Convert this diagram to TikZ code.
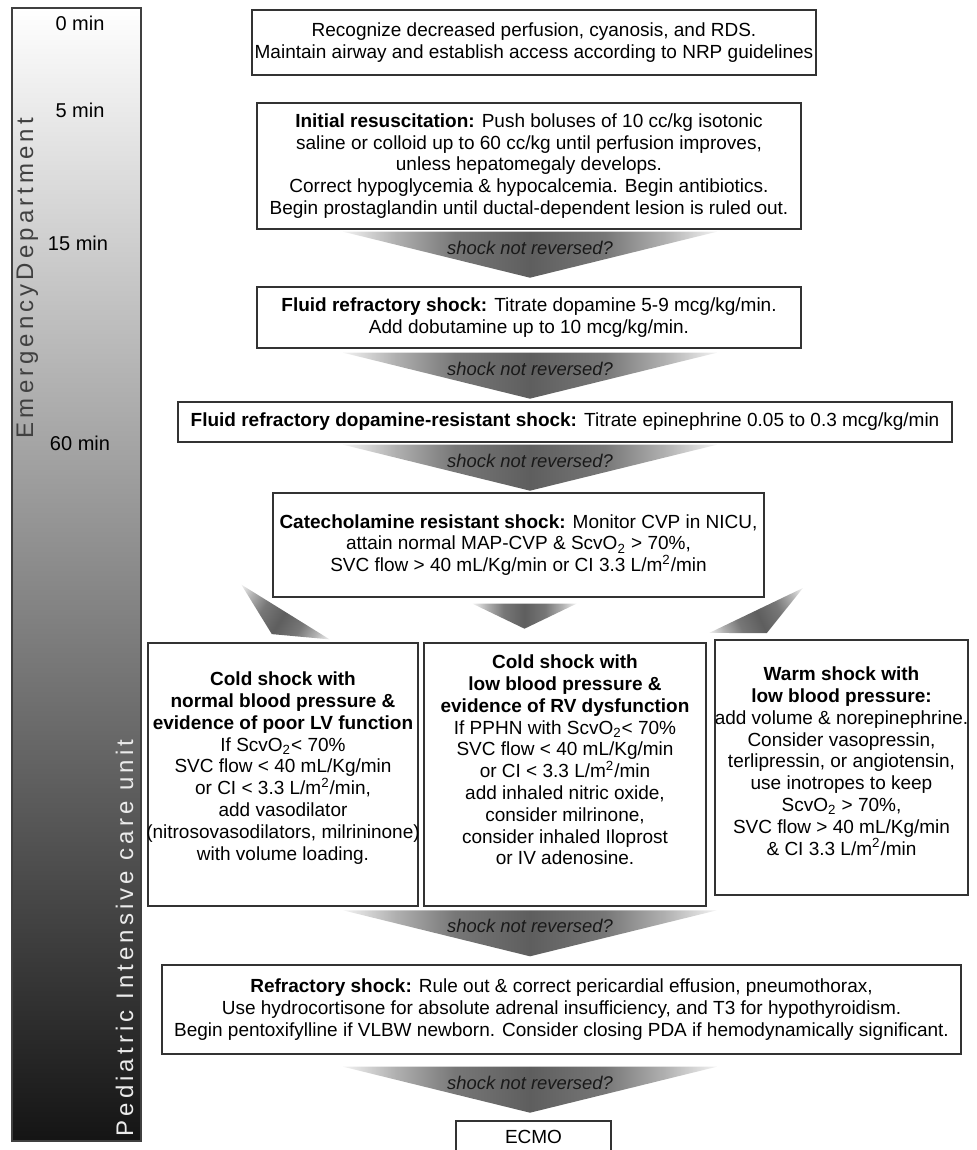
\documentclass[tikz,border=0pt]{standalone}
\usepackage{fontspec}
\setmainfont{Liberation Sans}
\newfontfamily\sidefont[LetterSpace=17]{Liberation Sans}
\usetikzlibrary{calc}
\definecolor{arA}{HTML}{F2F2F2}
\definecolor{arB}{HTML}{B0B0B0}
\definecolor{arC}{HTML}{777777}
\definecolor{arD}{HTML}{5E5E5E}
\pgfdeclarehorizontalshading{arrowshade}{100bp}{color(0bp)=(arA); color(25bp)=(arA); color(32bp)=(arB); color(40bp)=(arC); color(50bp)=(arD); color(60bp)=(arC); color(68bp)=(arB); color(75bp)=(arA); color(100bp)=(arA)}
\tikzset{
  txt/.style={font=\fontsize{9.5}{10.9}\selectfont, align=center, inner sep=0pt},
  box/.style={txt, draw=black!80, line width=0.7pt},
  timelbl/.style={font=\fontsize{10}{12}\selectfont, inner sep=0pt},
  shocktxt/.style={font=\fontsize{9.2}{11}\selectfont\itshape, text=black!90, inner sep=0pt},
  sidelbl/.style={rotate=90, anchor=base, inner sep=0pt, font=\fontsize{12}{14}\sidefont},
  pics/shockarrow/.style={code={
    \shade[shading=arrowshade] (-187,0) -- (187,0) -- (0,46) -- cycle;
    \node[shocktxt] (-t) at (0,16) {shock not reversed?};
  }},
  pics/smallarrow/.style={code={
    \shade[shading=arrowshade] (-52,0) -- (52,0) -- (0,25) -- cycle;
  }},
}
\begin{document}
\begin{tikzpicture}[x=0.5pt,y=-0.5pt]
\useasboundingbox (0,0) rectangle (977,1150);
% time bar
\shade[top color=white, bottom color=black!92, draw=black!75, line width=0.6pt] (12,8) rectangle (141,1141);
\node[timelbl] (t0) at (80,23) {0 min};
\node[timelbl] (t5) at (80,110) {5 min};
\node[timelbl] (t15) at (78,243) {15 min};
\node[timelbl] (t60) at (80,443) {60 min};
\node[sidelbl, text=black!75] (ed) at (33,278) {EmergencyDepartment};
\node[sidelbl, text=black!8] (picu) at (133,938) {Pediatric Intensive care unit};
% boxes
\node[box, minimum width=282pt, minimum height=32.5pt] (b1) at (534,42.5)
  {Recognize decreased perfusion, cyanosis, and RDS.\\Maintain airway and establish access according to NRP guidelines};
\node[box, minimum width=272pt, minimum height=63pt] (b2) at (529,166)
  {\textbf{Initial resuscitation:} Push boluses of 10 cc/kg isotonic\\saline or colloid up to 60 cc/kg until perfusion improves,\\unless hepatomegaly develops.\\Correct hypoglycemia \& hypocalcemia. Begin antibiotics.\\Begin prostaglandin until ductal-dependent lesion is ruled out.};
\node[box, minimum width=272pt, minimum height=30.5pt] (b3) at (529,317.5)
  {\textbf{Fluid refractory shock:} Titrate dopamine 5-9 mcg/kg/min.\\Add dobutamine up to 10 mcg/kg/min.};
\node[box, minimum width=387pt, minimum height=20pt] (b4) at (565,422)
  {\textbf{Fluid refractory dopamine-resistant shock:} Titrate epinephrine 0.05 to 0.3 mcg/kg/min};
\node[box, minimum width=245.5pt, minimum height=52pt] (b5) at (518.5,545)
  {\textbf{Catecholamine resistant shock:} Monitor CVP in NICU,\\attain normal MAP-CVP \& ScvO\textsubscript{2} > 70\%,\\SVC flow > 40 mL/Kg/min or CI 3.3 L/m\textsuperscript{2}/min};
\node[box, minimum width=135pt, minimum height=131.5pt] (bl) at (283,774.5) {};
\node[txt] (tl) at (283,768)
  {\textbf{Cold shock with}\\\textbf{normal blood pressure \&}\\\textbf{evidence of poor LV function}\\If ScvO\textsubscript{2}< 70\%\\SVC flow < 40 mL/Kg/min\\or CI < 3.3 L/m\textsuperscript{2}/min,\\add vasodilator\\(nitrosovasodilators, milrininone)\\with volume loading.};
\node[box, minimum width=141pt, minimum height=131.5pt] (bm) at (565,774.5) {};
\node[txt] (tm) at (565,760)
  {\textbf{Cold shock with}\\\textbf{low blood pressure \&}\\\textbf{evidence of RV dysfunction}\\If PPHN with ScvO\textsubscript{2}< 70\%\\SVC flow < 40 mL/Kg/min\\or CI < 3.3 L/m\textsuperscript{2}/min\\add inhaled nitric oxide,\\consider milrinone,\\consider inhaled Iloprost\\or IV adenosine.};
\node[box, minimum width=126.5pt, minimum height=127.5pt] (br) at (841.5,767.5) {};
\node[txt] (tr) at (841.5,761)
  {\textbf{Warm shock with}\\\textbf{low blood pressure:}\\add volume \& norepinephrine.\\Consider vasopressin,\\terlipressin, or angiotensin,\\use inotropes to keep\\ScvO\textsubscript{2} > 70\%,\\SVC flow > 40 mL/Kg/min\\\& CI 3.3 L/m\textsuperscript{2}/min};
\node[box, minimum width=399.5pt, minimum height=44.5pt] (b6) at (561.5,1009.5)
  {\textbf{Refractory shock:} Rule out \& correct pericardial effusion, pneumothorax,\\Use hydrocortisone for absolute adrenal insufficiency, and T3 for hypothyroidism.\\Begin pentoxifylline if VLBW newborn. Consider closing PDA if hemodynamically significant.};
\node[box, minimum width=77.5pt, minimum height=16pt] (b7) at (533.5,1137) {ECMO};
% arrows
\coordinate (ax) at (530,0);
\pic (a1) at ($(ax |- b2.south)+(0,2)$) {shockarrow};
\pic (a2) at ($(ax |- b3.south)+(0,4)$) {shockarrow};
\pic (a3) at ($(ax |- b4.south)+(0,2)$) {shockarrow};
\pic (a4) at ($(ax |- b6.north)+(0,-54)$) {shockarrow};
\pic (a5) at ($(ax |- b6.south)+(0,12)$) {shockarrow};
\pic (s2) at ($(b5.south)+(6,6)$) {smallarrow};
\begin{scope}[transform canvas={shift={(285.5,612)}, rotate=-31.8}]
  \shade[shading=arrowshade] (-52,0) -- (52,0) -- (0,26) -- cycle;
\end{scope}
\begin{scope}[transform canvas={shift={(756,610.5)}, rotate=25.6}]
  \shade[shading=arrowshade] (-52,0) -- (52,0) -- (0,25) -- cycle;
\end{scope}
\end{tikzpicture}
\end{document}
